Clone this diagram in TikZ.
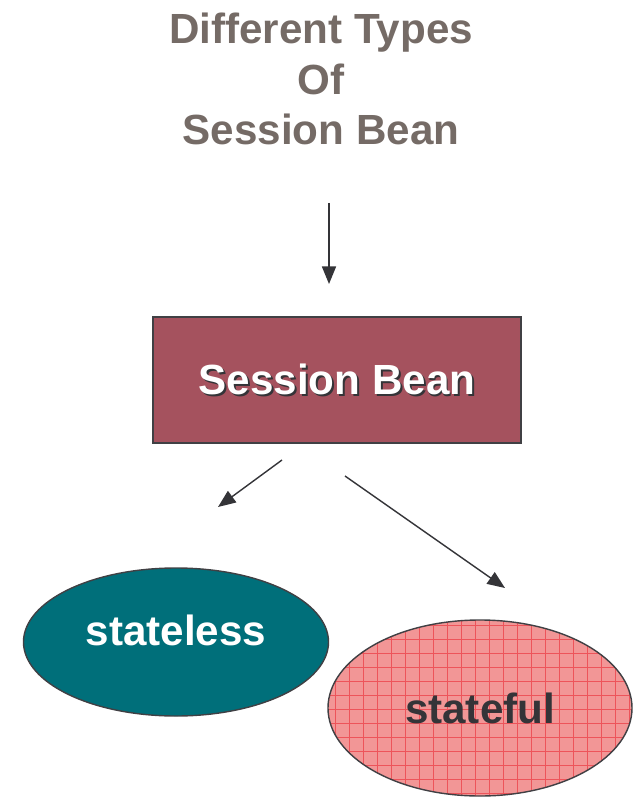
\documentclass[tikz,border=0pt]{standalone}
\usepackage{xcolor}
\usepackage{fontspec}
\setmainfont{Liberation Sans}
\usepackage{tikz}
\usetikzlibrary{shapes.geometric, arrows.meta, positioning, calc}
\definecolor{titlegray}{RGB}{117, 107, 102}
\definecolor{beanred}{RGB}{165, 82, 94}
\definecolor{edgegray}{RGB}{64, 64, 68}
\definecolor{statelessteal}{RGB}{0, 111, 122}
\definecolor{statefulpink}{RGB}{242, 150, 150}
\definecolor{gridred}{RGB}{235, 40, 50}
\definecolor{inkdark}{RGB}{52, 52, 56}

\tikzset{
    bigtext/.style={font=\fontsize{36}{43}\selectfont\bfseries},
    pointer/.style={draw=inkdark, line width=1.2pt, -{Triangle[length=15pt,width=12pt]}},
    kindoval/.style={ellipse, draw=edgegray, line width=1.2pt, inner sep=0pt, bigtext}
}
\newcommand{\shadowtext}[1]{\makebox[0pt][l]{\hspace{1.6pt}\raisebox{-1.6pt}{\textcolor{inkdark}{#1}}}\textcolor{white}{#1}}

\begin{document}
\begin{tikzpicture}[x=0.03cm, y=-0.03cm]
            \useasboundingbox (0,0) rectangle (632,797);

            \node[bigtext, text=titlegray, align=center] (title) at (321,79)
                {Different Types\\Of\\Session Bean};
            \coordinate (titlefoot) at (329,203);
            \coordinate (beantop) at (329,284);
            \draw[pointer] (titlefoot) -- (beantop);

            \node[fill=beanred, draw=edgegray, line width=1.2pt, bigtext,
                  minimum width=11.04cm, minimum height=3.78cm, inner sep=0pt] (bean) at (337,380)
                {\shadowtext{Session Bean}};

            % the two kinds
            \node[kindoval, fill=statelessteal, text=white,
                  minimum width=9.15cm, minimum height=4.44cm] (stateless) at (176,642)
                {\raisebox{0.72cm}{stateless}};
            \node[kindoval, fill=statefulpink, text=inkdark,
                  minimum width=9.12cm, minimum height=5.28cm,
                  path picture={\draw[gridred, line width=0.45pt, opacity=0.6, step=0.42cm]
                      (path picture bounding box.south west) grid (path picture bounding box.north east);}]
                  (stateful) at (480,708) {stateful};

            \coordinate (leftfrom) at (282,460);
            \coordinate (leftto) at (218,507);
            \coordinate (rightfrom) at (345,476);
            \coordinate (rightto) at (505,588);
            \draw[pointer] (leftfrom) -- (leftto);
            \draw[pointer] (rightfrom) -- (rightto);
        \end{tikzpicture}
\end{document}
